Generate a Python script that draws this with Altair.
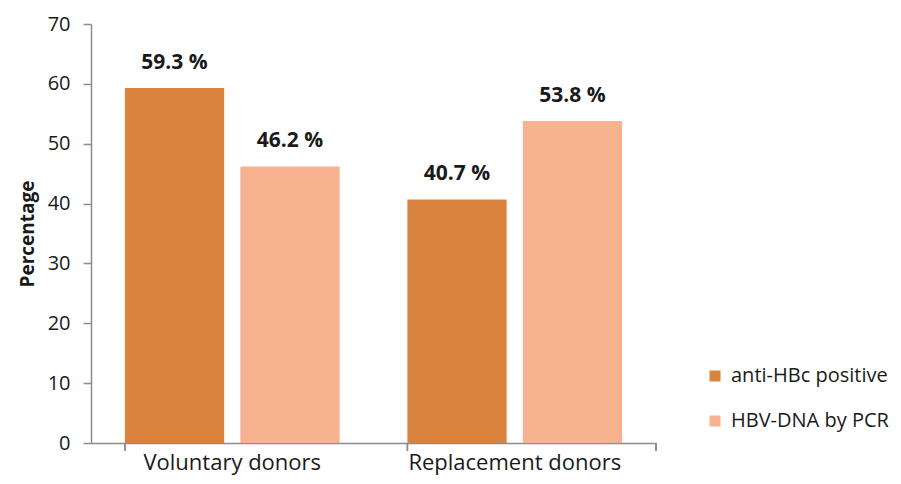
import altair as alt
import pandas as pd

categories = ["Voluntary donors", "Replacement donors"]
series = ["anti-HBc positive", "HBV-DNA by PCR"]
anti_hbc = [59.3, 40.7]
hbv_dna = [46.2, 53.8]
colors = ["#D9833F", "#F7B28F"]
y_ticks = [0, 10, 20, 30, 40, 50, 60, 70]

rows = []
for i, c in enumerate(categories):
    rows.append({"group": c, "series": series[0], "value": anti_hbc[i]})
    rows.append({"group": c, "series": series[1], "value": hbv_dna[i]})
df = pd.DataFrame(rows)
df["label"] = df["value"].map(lambda v: f"{v:.1f} %")

W, H = 565, 419
FONT = "Open Sans"
AXIS_COLOR = "#8C8C8C"
TEXT = "#1a1a1a"

xscale = alt.Scale(domain=categories, paddingInner=0.24, paddingOuter=0.12)
offscale = alt.Scale(domain=series, paddingInner=0.14, paddingOuter=0)
yscale = alt.Scale(domain=[0, 70], nice=False)

base = alt.Chart(df)

bars = base.mark_bar().encode(
    x=alt.X("group:N", scale=xscale, sort=categories,
            axis=alt.Axis(title=None, ticks=False, labelAngle=0, labelFontSize=22,
                          labelPadding=9, labelColor=TEXT, labelLimit=0,
                          domainColor=AXIS_COLOR, domainWidth=1.5)),
    xOffset=alt.XOffset("series:N", scale=offscale, sort=series),
    y=alt.Y("value:Q", scale=yscale,
            axis=alt.Axis(title="Percentage", values=y_ticks, grid=False,
                          tickSize=8, tickColor=AXIS_COLOR, tickWidth=1.5,
                          domainColor=AXIS_COLOR, domainWidth=1.5,
                          labelFontSize=20, labelPadding=13, labelColor=TEXT,
                          titleFontSize=19, titleFontWeight="bold", titlePadding=10,
                          titleColor=TEXT)),
    color=alt.Color("series:N", sort=series,
                    scale=alt.Scale(domain=series, range=colors),
                    legend=alt.Legend(title=None, orient="none", legendX=614, legendY=342,
                                      symbolType="square", symbolSize=121,
                                      symbolStrokeWidth=0, labelFontSize=20,
                                      labelColor=TEXT, labelOffset=6, labelLimit=0,
                                      rowPadding=25, padding=0)),
)

labels = base.mark_text(fontSize=21, fontWeight="bold", color=TEXT,
                        baseline="middle", dy=-25).encode(
    x=alt.X("group:N", scale=xscale, sort=categories),
    xOffset=alt.XOffset("series:N", scale=offscale, sort=series),
    y=alt.Y("value:Q", scale=yscale),
    text="label:N",
)

ticks = base.mark_rule(color=AXIS_COLOR, strokeWidth=1.5).encode(
    x=alt.X("group:N", scale=xscale, sort=categories, bandPosition=0),
    y=alt.value(H),
    y2=alt.value(H + 8),
)
end_tick = base.mark_rule(color=AXIS_COLOR, strokeWidth=1.5).encode(
    x=alt.value(W),
    y=alt.value(H),
    y2=alt.value(H + 8),
)

chart = alt.layer(bars, labels, ticks, end_tick).properties(
    width=W, height=H,
    autosize=alt.AutoSizeParams(type="none"),
    padding={"left": 83, "top": 16, "right": 237, "bottom": 33},
).configure(font=FONT).configure_view(stroke=None)

chart.save("out.html", embed_options={"renderer": "svg", "actions": False})
